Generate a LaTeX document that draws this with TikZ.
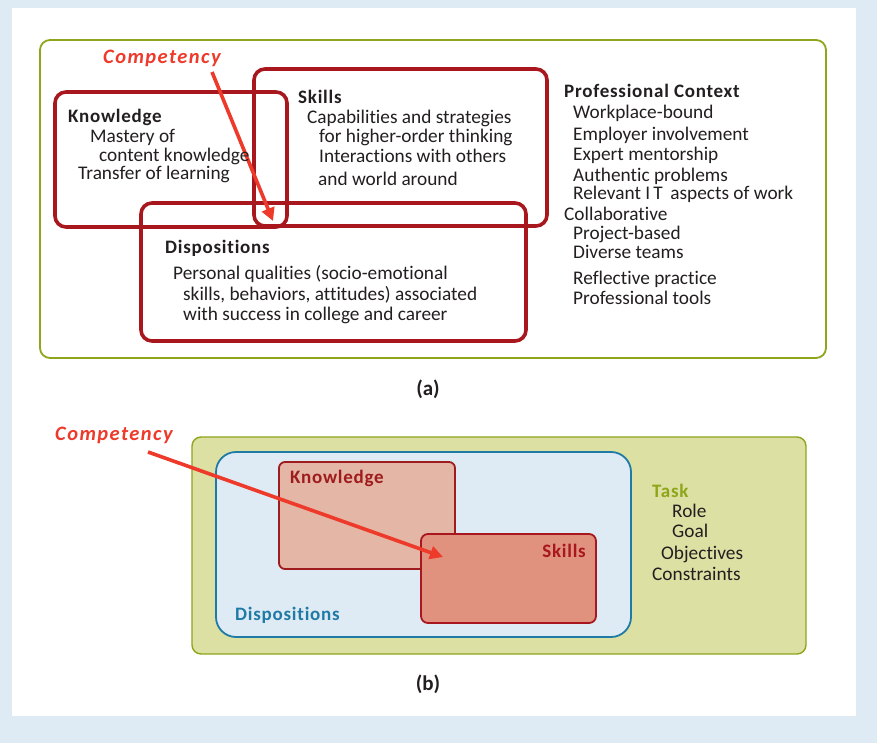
\documentclass[tikz,border=0pt]{standalone}
\usepackage{fontspec}
\setmainfont[Ligatures=NoCommon]{Carlito}
\usetikzlibrary{arrows.meta}
\definecolor{bgblue}{HTML}{DFEBF4}
\definecolor{olive}{HTML}{8FA51A}
\definecolor{khaki}{HTML}{DCE0A3}
\definecolor{boxred}{HTML}{A8161E}
\definecolor{arrred}{HTML}{EE3A2B}
\definecolor{txtgray}{HTML}{231F20}
\definecolor{teal}{HTML}{1F7BA6}
\definecolor{knfill}{HTML}{E4B6A5}
\definecolor{skfill}{HTML}{E0927F}
\definecolor{knedge}{HTML}{9E1B1E}
\newcommand{\bodyfs}{\fontsize{19.3}{21}\selectfont}
\tikzset{
  txt/.style={anchor=base west, inner sep=0pt, font=\bodyfs, text=txtgray, yshift=-1pt},
  hd/.style={txt, font=\fontsize{19}{21}\selectfont\bfseries\addfontfeature{LetterSpace=4}},
  comp/.style={anchor=base west, inner sep=0pt, text=arrred, font=\fontsize{20.5}{22}\selectfont\bfseries\itshape\addfontfeature{LetterSpace=7}},
  redbox/.style={draw=boxred, line width=3.6pt, rounded corners=11pt},
  comparrow/.style={draw=arrred, line width=3.6pt, -{Triangle[length=13pt,width=13pt]}},
  captxt/.style={anchor=base, inner sep=0pt, font=\fontsize{21}{23}\selectfont\bfseries, text=txtgray}
}
\begin{document}
\begin{tikzpicture}[x=1pt,y=-1pt]
\useasboundingbox (0,0) rectangle (877,743);
\fill[bgblue] (0,0) rectangle (877,743);
\fill[white] (12,8) rectangle (856,716);

% ---------- panel (a) ----------
\draw[olive, line width=1.8pt, rounded corners=10pt] (40,40) rectangle (826,358);
\draw[redbox] (55,92) rectangle (287,227);
\draw[redbox] (254,69) rectangle (547,226);
\draw[redbox] (141,203) rectangle (526,341);

\node[comp] (compA) at (103,64) {Competency};
\coordinate (startA) at (212,72);
\coordinate (tipA) at (273,221);
\draw[comparrow] (startA) -- (tipA);

\node[hd] (knA) at (68,122) {Knowledge};
\node[txt] (kn1) at (90,142) {Mastery of};
\node[txt] (kn2) at (99,161) {content knowledge};
\node[txt] (kn3) at (78,179) {Transfer of learning};

\node[hd] (skA) at (298,103) {Skills};
\node[txt] (sk1) at (307,123) {Capabilities and strategies};
\node[txt] (sk2) at (319,142) {for higher-order thinking};
\node[txt] (sk3) at (319,162) {Interactions with others};
\node[txt] (sk4) at (318,185) {and world around};

\node[hd] (diA) at (165,253) {Dispositions};
\node[txt] (di1) at (173,278) {Personal qualities (socio-emotional};
\node[txt] (di2) at (183,299) {skills, behaviors, attitudes) associated};
\node[txt] (di3) at (183,319) {with success in college and career};

\node[hd] (pc) at (564,97) {Professional Context};
\node[txt] (pc1) at (573,118) {Workplace-bound};
\node[txt] (pc2) at (573,140) {Employer involvement};
\node[txt] (pc3) at (573,160) {Expert mentorship};
\node[txt] (pc4) at (573,181) {Authentic problems};
\node[txt] (pc5) at (573,198.5) {Relevant I\,T\, aspects of work};
\node[txt] (pc6) at (564,219.5) {Collaborative};
\node[txt] (pc7) at (573,238.5) {Project-based};
\node[txt] (pc8) at (573,257.5) {Diverse teams};
\node[txt] (pc9) at (573,283) {Reflective practice};
\node[txt] (pc10) at (573,303) {Professional tools};

\node[captxt] (capa) at (428,395) {(a)};

% ---------- panel (b) ----------
\draw[olive, fill=khaki, line width=1.4pt, rounded corners=9pt] (192,437) rectangle (806,654);
\draw[teal, fill=bgblue, line width=1.8pt, rounded corners=20pt] (216,452) rectangle (631,637);
\draw[knedge, fill=knfill, line width=1.8pt, rounded corners=6pt] (279,462) rectangle (455,569);
\draw[boxred, fill=skfill, line width=1.8pt, rounded corners=7pt] (421,534) rectangle (596,623);

\node[hd, text=knedge] (knB) at (290,482) {Knowledge};
\node[hd, text=boxred, anchor=base east] (skB) at (586,556) {Skills};
\node[hd, text=teal] (diB) at (235,619) {Dispositions};

\node[hd, text=olive] (task) at (652,496) {Task};
\node[txt] (t1) at (672,516) {Role};
\node[txt] (t2) at (672,536) {Goal};
\node[txt] (t3) at (661,558) {Objectives};
\node[txt] (t4) at (652,579) {Constraints};

\node[comp] (compB) at (55,440) {Competency};
\coordinate (startB) at (148,452);
\coordinate (tipB) at (443,557);
\draw[comparrow] (startB) -- (tipB);

\node[captxt] (capb) at (428,690) {(b)};
\end{tikzpicture}
\end{document}
